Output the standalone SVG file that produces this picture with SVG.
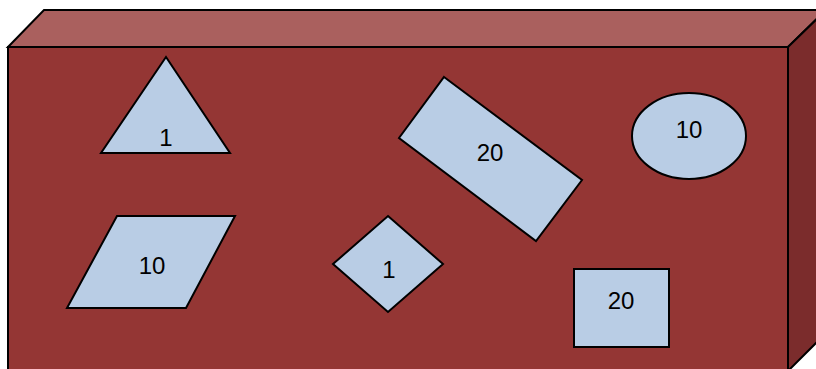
<svg xmlns="http://www.w3.org/2000/svg" width="816" height="369" viewBox="0 0 816 369">
<style>
.box{stroke:#000;stroke-width:2;stroke-linejoin:miter}
.shp{fill:#B9CDE5;stroke:#000;stroke-width:2}
.lbl{font-family:"Liberation Sans",Arial,sans-serif;font-size:24px;fill:#000;text-anchor:middle}
</style>
<g id="box">
<polygon class="box" points="8,47 44,10 826,10 788,47" fill="#AA605E"/>
<polygon class="box" points="788,47 826,10 826,333 788,371" fill="#7B2C2C"/>
<rect class="box" x="8" y="47" width="780" height="330" fill="#943634"/>
</g>
<g id="triangle">
<polygon class="shp" points="166,57 230,153 101,153"/>
<text class="lbl" x="166" y="146">1</text>
</g>
<g id="rotrect">
<polygon class="shp" points="444,77 582,180 536,241 399,138"/>
<text class="lbl" x="490" y="161">20</text>
</g>
<g id="ellipse">
<ellipse class="shp" cx="689" cy="136" rx="57" ry="43"/>
<text class="lbl" x="689" y="138">10</text>
</g>
<g id="parallelogram">
<polygon class="shp" points="117,216 235,216 186,308 67,308"/>
<text class="lbl" x="152" y="274">10</text>
</g>
<g id="diamond">
<polygon class="shp" points="388,216 443,264 388,312 333,264"/>
<text class="lbl" x="389" y="278">1</text>
</g>
<g id="square">
<rect class="shp" x="574" y="269" width="95" height="78"/>
<text class="lbl" x="621" y="309">20</text>
</g>
</svg>
